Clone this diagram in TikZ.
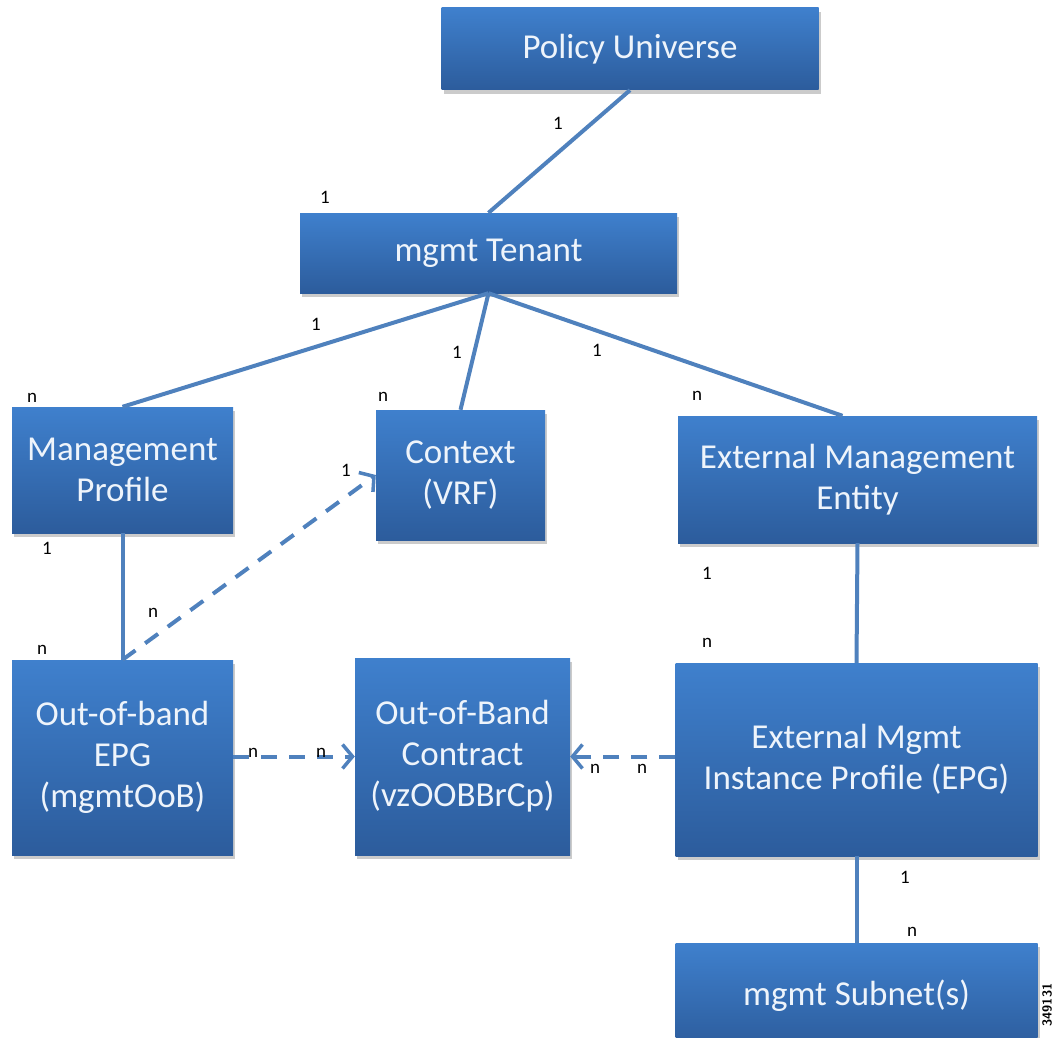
\documentclass[tikz,border=0pt]{standalone}
\usepackage{fontspec}
\setmainfont{Carlito}
\usetikzlibrary{shadows,arrows.meta}
\definecolor{boxtop}{HTML}{3F80CD}
\definecolor{boxbot}{HTML}{2C5C9C}
\definecolor{boxtxt}{HTML}{EEF4FB}
\definecolor{link}{HTML}{4F81BD}

\begin{document}
\begin{tikzpicture}[x=1pt,y=-1pt,
  obj/.style={rectangle,top color=boxtop,bottom color=boxbot,draw=none,text=boxtxt,
    align=center,inner sep=0pt,font=\fontsize{35}{41}\selectfont,
    drop shadow={shadow xshift=2pt,shadow yshift=-4pt,fill=black!45,opacity=0.45}},
  card/.style={font=\fontsize{19}{22}\selectfont,text=black,inner sep=1pt},
  rel/.style={draw=link,line width=4pt},
  dep/.style={rel,dash pattern=on 16pt off 12pt,-{Straight Barb[length=10pt,width=24pt,line width=3.5pt]}}]
\useasboundingbox (0,0) rectangle (1055,1038);
% boxes
\node[obj,minimum width=377pt,minimum height=82pt] (pu) at (630,49) {Policy Universe};
\node[obj,minimum width=377pt,minimum height=80pt] (tenant) at (488.5,253) {mgmt Tenant};
\node[obj,minimum width=221pt,minimum height=126pt] (mprof) at (122.5,470) {Management\\Profile};
\node[obj,minimum width=169pt,minimum height=130pt] (ctx) at (460.5,475) {Context\\(VRF)};
\node[obj,minimum width=359pt,minimum height=127pt] (extent) at (857.5,479.5) {External Management\\Entity};
\node[obj,minimum width=221pt,minimum height=195pt] (oob) at (122.5,757.5) {Out-of-band\\EPG\\(mgmtOoB)};
\node[obj,minimum width=215pt,minimum height=197pt] (contract) at (462.5,756.5) {Out-of-Band\\Contract\\(vzOOBBrCp)};
\node[obj,minimum width=362pt,minimum height=193pt] (extepg) at (856.5,759.5) {External Mgmt\\Instance Profile (EPG)};
\node[obj,minimum width=362pt,minimum height=106pt] (subnet) at (856.5,996) {mgmt Subnet(s)};
% connectors
\draw[rel] (pu.south) -- (tenant.north);
\draw[rel] (tenant.south) -- (mprof.north);
\draw[rel] (tenant.south) -- (ctx.north);
\draw[rel] (tenant.south) -- ([xshift=-15pt]extent.north);
\draw[rel] (mprof.south) -- (oob.north);
\draw[rel] (extent.south) -- (extepg.north);
\draw[rel] (extepg.south) -- (subnet.north);
\draw[dep] (oob.north) -- (ctx.west);
\draw[dep] (oob.east |- contract.west) -- (contract.west);
\draw[dep] (contract.east -| extepg.west) -- (contract.east);
% cardinalities
\node[card] (c1) at (558,123) {1};
\node[card] (c2) at (325,197) {1};
\node[card] (c3) at (316,324) {1};
\node[card] (c4) at (32,398) {n};
\node[card] (c5) at (457,352) {1};
\node[card] (c6) at (383,397) {n};
\node[card] (c7) at (597,350) {1};
\node[card] (c8) at (697,396) {n};
\node[card] (c9) at (47,548) {1};
\node[card] (c10) at (42,650) {n};
\node[card] (c11) at (346,470) {1};
\node[card] (c12) at (153,613) {n};
\node[card] (c13) at (707,573) {1};
\node[card] (c14) at (707,643) {n};
\node[card] (c15) at (253,753) {n};
\node[card] (c16) at (321,753) {n};
\node[card] (c17) at (595,769) {n};
\node[card] (c18) at (642,769) {n};
\node[card] (c19) at (905,877) {1};
\node[card] (c20) at (912,932) {n};
\node[rotate=90,font=\sffamily\bfseries\fontsize{13}{15}\selectfont,inner sep=0pt] (figno) at (1047,1005) {349131};
\end{tikzpicture}
\end{document}
